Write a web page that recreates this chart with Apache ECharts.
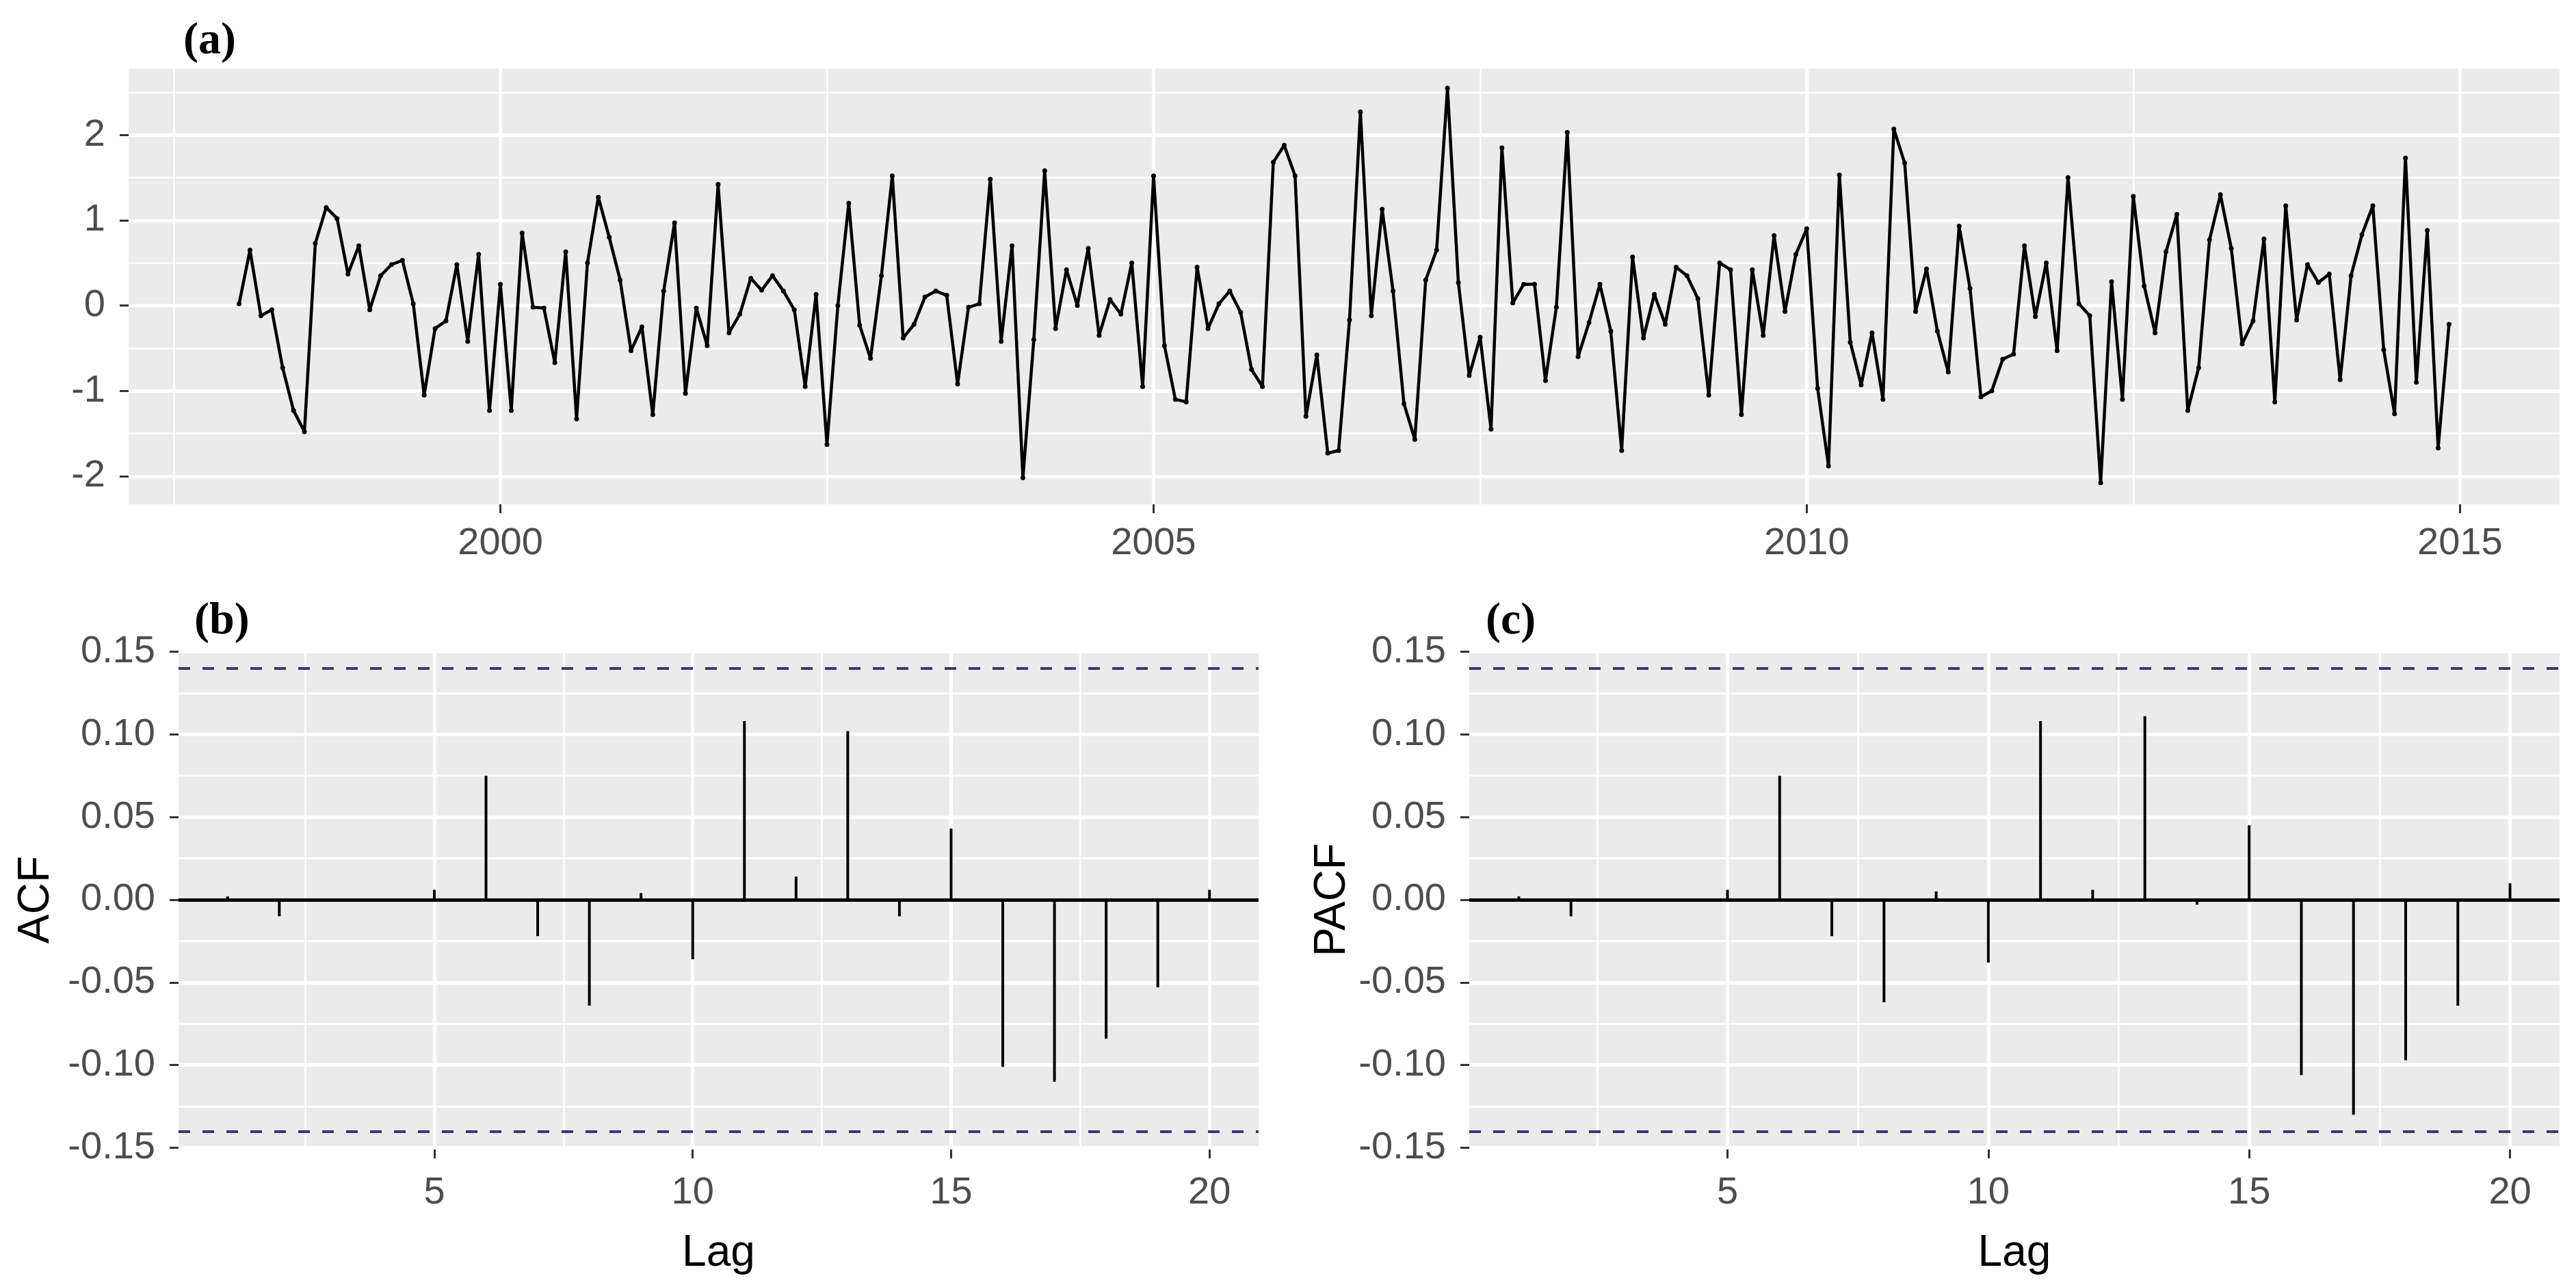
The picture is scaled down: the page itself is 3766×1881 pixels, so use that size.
<!DOCTYPE html>
<html>
<head>
<meta charset="utf-8">
<title>Series, ACF and PACF</title>
<script src="https://cdn.jsdelivr.net/npm/echarts@6.0.0/dist/echarts.min.js"></script>
<style>
html, body { margin:0; padding:0; background:#fff; }
#main { width:3766px; height:1881px; }
</style>
</head>
<body>
<div id="main"></div>
<script>
// monthly values, Jan .. Dec of each year
var startYear = 1998;
var v1998 = [0.02, 0.65, -0.12, -0.05, -0.73, -1.23, -1.48, 0.73, 1.15, 1.02, 0.37, 0.70];
var v1999 = [-0.05, 0.35, 0.48, 0.53, 0.02, -1.05, -0.27, -0.18, 0.48, -0.42, 0.60, -1.23];
var v2000 = [0.25, -1.23, 0.85, -0.02, -0.03, -0.67, 0.63, -1.33, 0.50, 1.27, 0.80, 0.30];
var v2001 = [-0.53, -0.25, -1.28, 0.17, 0.97, -1.03, -0.03, -0.47, 1.42, -0.32, -0.10, 0.32];
var v2002 = [0.18, 0.35, 0.17, -0.05, -0.95, 0.13, -1.63, 0.00, 1.20, -0.23, -0.62, 0.35];
var v2003 = [1.52, -0.38, -0.22, 0.10, 0.17, 0.12, -0.92, -0.02, 0.02, 1.48, -0.42, 0.70];
var v2004 = [-2.02, -0.40, 1.58, -0.27, 0.42, 0.00, 0.67, -0.35, 0.07, -0.10, 0.50, -0.95];
var v2005 = [1.52, -0.47, -1.10, -1.13, 0.45, -0.27, 0.02, 0.17, -0.08, -0.75, -0.95, 1.68];
var v2006 = [1.88, 1.52, -1.30, -0.58, -1.73, -1.70, -0.17, 2.27, -0.12, 1.13, 0.17, -1.15];
var v2007 = [-1.57, 0.30, 0.65, 2.55, 0.27, -0.82, -0.37, -1.45, 1.85, 0.03, 0.25, 0.25];
var v2008 = [-0.88, -0.02, 2.03, -0.60, -0.20, 0.25, -0.30, -1.70, 0.57, -0.38, 0.13, -0.22];
var v2009 = [0.45, 0.35, 0.08, -1.05, 0.50, 0.42, -1.28, 0.42, -0.35, 0.82, -0.07, 0.60];
var v2010 = [0.90, -0.97, -1.88, 1.53, -0.43, -0.93, -0.32, -1.10, 2.07, 1.67, -0.07, 0.43];
var v2011 = [-0.30, -0.78, 0.93, 0.20, -1.07, -1.00, -0.63, -0.57, 0.70, -0.13, 0.50, -0.53];
var v2012 = [1.50, 0.02, -0.12, -2.08, 0.28, -1.10, 1.28, 0.23, -0.32, 0.63, 1.07, -1.23];
var v2013 = [-0.73, 0.77, 1.30, 0.67, -0.45, -0.18, 0.78, -1.13, 1.17, -0.17, 0.48, 0.27];
var v2014 = [0.37, -0.87, 0.35, 0.83, 1.17, -0.52, -1.27, 1.73, -0.90, 0.88, -1.67, -0.22];

var lags = [1, 2, 3, 4, 5, 6, 7, 8, 9, 10, 11, 12, 13, 14, 15, 16, 17, 18, 19, 20];
var acfValues = [0.002, -0.010, 0.000, -0.001, 0.006, 0.075, -0.022, -0.064, 0.004, -0.036,
                 0.108, 0.014, 0.102, -0.010, 0.043, -0.101, -0.110, -0.084, -0.053, 0.006];
var pacfValues = [0.002, -0.010, 0.000, -0.001, 0.006, 0.075, -0.022, -0.062, 0.005, -0.038,
                  0.108, 0.006, 0.111, -0.003, 0.045, -0.106, -0.130, -0.097, -0.064, 0.010];
var ciBound = 0.137;

// tick labels and grid breaks
var tsXTicks = [2000, 2005, 2010, 2015];
var tsXMinor = [1997.5, 2002.5, 2007.5, 2012.5];
var tsYTicks = [-2, -1, 0, 1, 2];
var tsYMinor = [-1.5, -0.5, 0.5, 1.5, 2.5];
var lagTicks = [5, 10, 15, 20];
var lagMinor = [2.5, 7.5, 12.5, 17.5];
var corrTicks = [-0.15, -0.10, -0.05, 0, 0.05, 0.10, 0.15];
var corrMinor = [-0.125, -0.075, -0.025, 0.025, 0.075, 0.125];

var allValues = [].concat(v1998, v1999, v2000, v2001, v2002, v2003, v2004, v2005,
                          v2006, v2007, v2008, v2009, v2010, v2011, v2012, v2013, v2014);
var tsData = allValues.map(function (v, i) { return [startYear + i / 12, v]; });

var sansFont = '"Liberation Sans", Arial, sans-serif';
var tickText = { color: '#4d4d4d', fontSize: 56, fontFamily: sansFont };
var titleText = { color: '#000', fontSize: 64, fontFamily: sansFont };

function majorAxis(grid, min, max, ticks, pos, margin, fmt, extra) {
    var ax = {
        type: 'value', gridIndex: grid, min: min, max: max, position: pos,
        axisLine: { show: false, onZero: false },
        axisTick: { show: true, customValues: ticks, length: 13, lineStyle: { color: '#333', width: 3 } },
        axisLabel: Object.assign({ customValues: ticks, margin: margin, formatter: fmt }, tickText),
        splitLine: { show: true, lineStyle: { color: '#fff', width: 5 } }
    };
    return Object.assign(ax, extra || {});
}
function minorAxis(grid, min, max, ticks) {
    return {
        type: 'value', gridIndex: grid, min: min, max: max,
        axisLine: { show: false, onZero: false },
        axisTick: { show: false, customValues: ticks },
        axisLabel: { show: false, customValues: ticks },
        splitLine: { show: true, lineStyle: { color: '#fff', width: 2.5 } }
    };
}
function two(v) { return v.toFixed(2); }
function plain(v) { return String(v); }

function corrSeries(axisIdx, vals) {
    return {
        type: 'bar', xAxisIndex: axisIdx, yAxisIndex: axisIdx,
        data: lags.map(function (l, i) { return [l, vals[i]]; }),
        barWidth: 4, itemStyle: { color: '#000' }, silent: true,
        markLine: {
            silent: true, symbol: 'none', label: { show: false },
            data: [
                { yAxis: 0, lineStyle: { color: '#000', width: 5, type: 'solid' } },
                { yAxis: ciBound, lineStyle: { color: '#383870', width: 4, type: [17, 18] } },
                { yAxis: -ciBound, lineStyle: { color: '#383870', width: 4, type: [17, 18] } }
            ]
        }
    };
}

var chart = echarts.init(document.getElementById('main'));
chart.setOption({
    animation: false,
    backgroundColor: '#fff',
    grid: [
        { left: 188, top: 100, width: 3554, height: 637, show: true, backgroundColor: '#ebebeb', borderWidth: 0 },
        { left: 261, top: 950, width: 1579, height: 730, show: true, backgroundColor: '#ebebeb', borderWidth: 0 },
        { left: 2148, top: 950, width: 1594, height: 730, show: true, backgroundColor: '#ebebeb', borderWidth: 0 }
    ],
    xAxis: [
        majorAxis(0, 1997.154, 2015.763, tsXTicks, 'bottom', 30, plain),
        minorAxis(0, 1997.154, 2015.763, tsXMinor),
        majorAxis(1, 0.05, 20.95, lagTicks, 'bottom', 36, plain,
            { name: 'Lag', nameLocation: 'middle', nameGap: 120, nameTextStyle: titleText }),
        minorAxis(1, 0.05, 20.95, lagMinor),
        majorAxis(2, 0.05, 20.95, lagTicks, 'bottom', 36, plain,
            { name: 'Lag', nameLocation: 'middle', nameGap: 120, nameTextStyle: titleText }),
        minorAxis(2, 0.05, 20.95, lagMinor)
    ],
    yAxis: [
        majorAxis(0, -2.33, 2.78, tsYTicks, 'left', 34, plain),
        minorAxis(0, -2.33, 2.78, tsYMinor),
        majorAxis(1, -0.151, 0.151, corrTicks, 'left', 34, two,
            { name: 'ACF', nameLocation: 'middle', nameGap: 176, nameRotate: 90, nameTextStyle: titleText }),
        minorAxis(1, -0.151, 0.151, corrMinor),
        majorAxis(2, -0.151, 0.151, corrTicks, 'left', 34, two,
            { name: 'PACF', nameLocation: 'middle', nameGap: 168, nameRotate: 90, nameTextStyle: titleText }),
        minorAxis(2, -0.151, 0.151, corrMinor)
    ],
    series: [
        {
            type: 'line', xAxisIndex: 0, yAxisIndex: 0, data: tsData,
            lineStyle: { color: '#000', width: 4.5 },
            symbol: 'circle', symbolSize: 7, itemStyle: { color: '#000' },
            silent: true
        },
        corrSeries(2, acfValues),
        corrSeries(4, pacfValues)
    ],
    graphic: [
        { type: 'text', left: 268, top: 28, style: { text: '(a)', font: 'bold 66px "Liberation Serif"', fill: '#000' } },
        { type: 'text', left: 284, top: 876, style: { text: '(b)', font: 'bold 66px "Liberation Serif"', fill: '#000' } },
        { type: 'text', left: 2172, top: 876, style: { text: '(c)', font: 'bold 66px "Liberation Serif"', fill: '#000' } }
    ]
});
</script>
</body>
</html>
